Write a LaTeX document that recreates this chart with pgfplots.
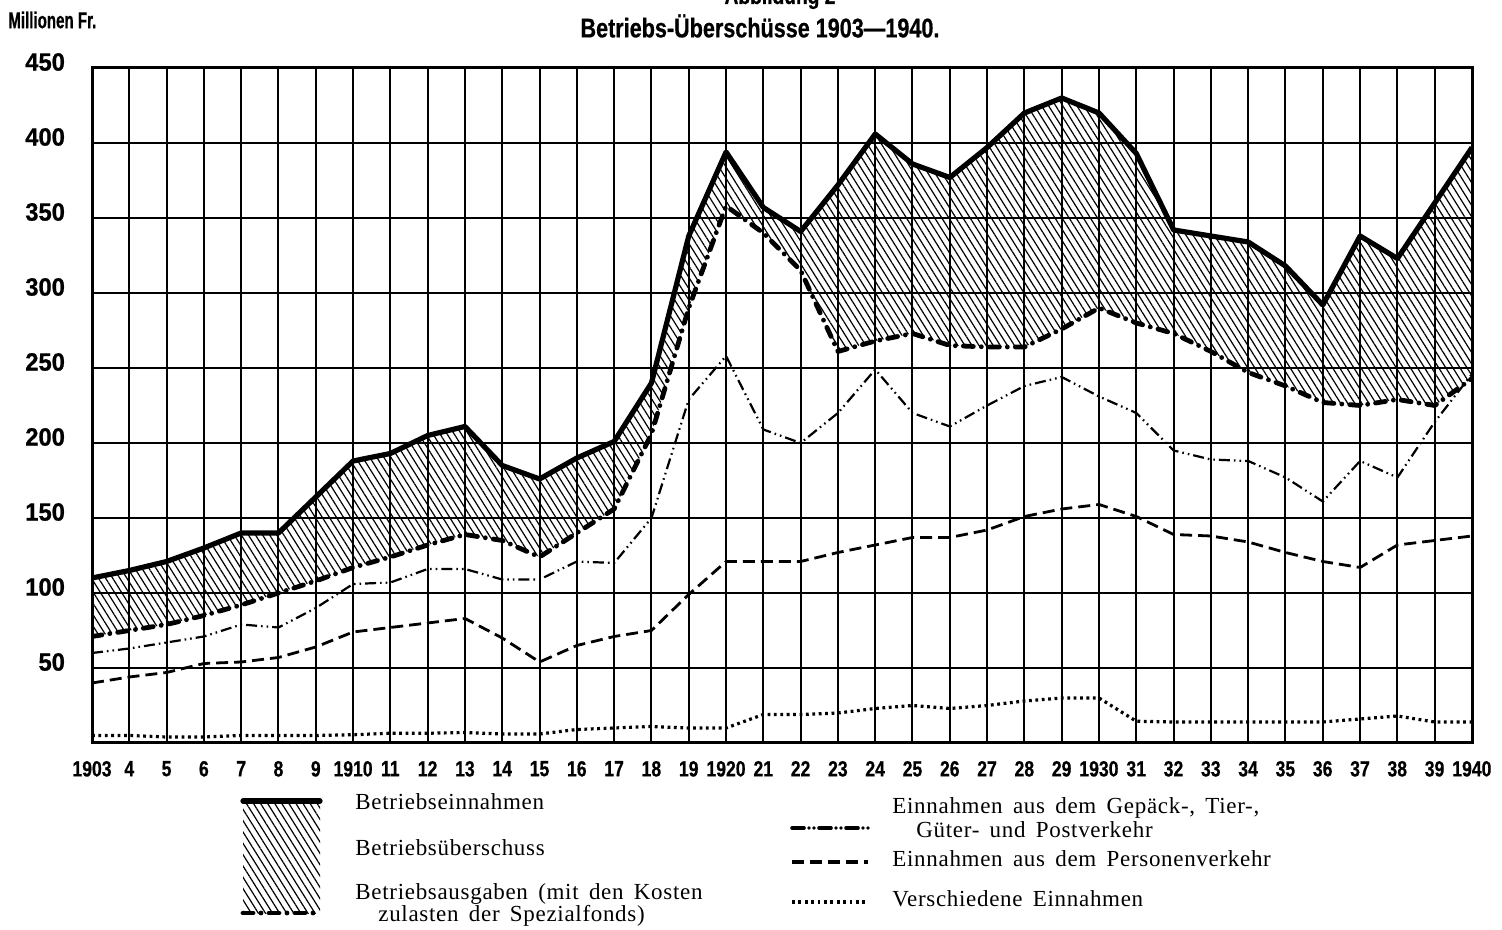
\documentclass[border=0pt]{standalone}
\usepackage{fontspec}
\setmainfont{Liberation Serif}
\newfontfamily\legfont{Liberation Serif}[LetterSpace=3,WordSpace=1.6]
\newfontfamily\cond{Liberation Sans}[FakeStretch=0.8,FakeBold=0.6]
\newfontfamily\ycond{Liberation Sans}[FakeStretch=0.95,FakeBold=0.8]
\usepackage{pgfplots}
\usepackage{pgfplotstable}
\pgfplotsset{compat=1.18}
\usepgfplotslibrary{fillbetween}
\usetikzlibrary{patterns.meta}

% Millionen Fr.
\pgfplotstableread{
year ein aus gut pers versch
1903 110  71  60  40  5
1904 115  75  63  44  5
1905 121  79  67  47  4
1906 130  85  71  53  4
1907 140  92  79  54  5
1908 140 100  77  57  5
1909 164 108  90  64  5
1910 188 117 106  74  5.5
1911 193 124 107  77  6.5
1912 205 132 116  80  6.5
1913 211 139 116  83  7
1914 185 135 109  70  6
1915 176 124 109  54  6
1916 190 140 121  65  9
1917 201 156 120  71  10
1918 240 206 150  75  11
1919 338 290 229  99  10
1920 394 358 258 121  10
1921 357 340 209 121  19
1922 341 315 200 121  19
1923 372 261 220 127  20
1924 406 268 249 132  23
1925 386 273 220 137  25
1926 377 265 211 137  23
1927 397 264 225 142  25
1928 420 264 238 151  28
1929 430 276 244 156  30
1930 420 290 231 159  30
1931 393 280 220 151  14.5
1932 342 273 195 139  14
1933 338 261 189 138  14
1934 334 247 188 134  14
1935 318 238 177 127  14
1936 292 227 161 121  14
1937 338 225 188 117  16
1938 323 229 177 132  18
1939 360 225 214 135  14
1940 397 243 246 138  14
}\data

\tikzset{
  hatch/.style={pattern={Lines[angle=-58,distance=3pt,line width=0.6pt]}},
  einst/.style={black, line width=2.6pt, line join=round},
  ausst/.style={black, line width=2.4pt, line cap=round, line join=round,
    dash pattern=on 5pt off 4pt on 0pt off 4pt},
  gutst/.style={black, line width=1.1pt,
    dash pattern=on 5.5pt off 2pt on 0.8pt off 2pt on 0.8pt off 2pt},
  persst/.style={black, line width=1.4pt, dash pattern=on 6pt off 3pt},
  verst/.style={black, line width=1.6pt, dash pattern=on 1.4pt off 1.8pt},
}

\begin{document}
\begin{tikzpicture}
\begin{axis}[
    scale only axis,
    width=690pt, height=337.5pt,
    xmin=1903, xmax=1940,
    ymin=0, ymax=450,
    xtick={1903,...,1940},
    xticklabels={1903,4,5,6,7,8,9,1910,11,12,13,14,15,16,17,18,19,1920,21,22,23,24,25,26,27,28,29,1930,31,32,33,34,35,36,37,38,39,1940},
    ytick={50,100,...,450},
    yticklabels={50,100,150,200,250,300,350,400,450},
    grid=major,
    major grid style={black, line width=1pt},
    axis line style={black, line width=1.5pt},
    major tick length=0pt,
    xticklabel style={font=\cond\bfseries\fontsize{11}{12}\selectfont, anchor=north, yshift=-5.5pt},
    yticklabel style={font=\ycond\bfseries\fontsize{12.5}{13}\selectfont, anchor=east, xshift=-10pt, yshift=3pt},
]
\addplot[name path=ein, draw=none, forget plot] table[x=year, y=ein] {\data};
\addplot[name path=aus, draw=none, forget plot] table[x=year, y=aus] {\data};
\addplot[hatch, draw=none] fill between[of=ein and aus];

\addplot[verst] table[x=year, y=versch] {\data};
\addplot[persst] table[x=year, y=pers] {\data};
\addplot[gutst] table[x=year, y=gut] {\data};
\addplot[ausst] table[x=year, y=aus] {\data};
\addplot[einst] table[x=year, y=ein] {\data};
\end{axis}

% titles
\begin{scope}
\clip (200pt,340pt) rectangle (500pt,371.5pt);
\node[font=\cond\bfseries\fontsize{12}{13}\selectfont, anchor=base] at (344pt,369.5pt) {Abbildung 2};
\end{scope}
\node[font=\cond\bfseries\fontsize{13.5}{15}\selectfont] at (334pt,358.5pt) {Betriebs-Überschüsse 1903—1940.};
\node[font=\cond\bfseries\fontsize{11.5}{13}\selectfont, anchor=west, xscale=0.82, inner sep=0pt] at (-42pt,361.5pt) {Millionen Fr.};

% legend, left block
\fill[hatch] (75.5pt,-85pt) rectangle (114pt,-29pt);
\draw[einst, line cap=round] (75.5pt,-29pt) -- (114pt,-29pt);
\draw[ausst] (75.5pt,-85pt) -- (114pt,-85pt);
\begin{scope}[every node/.style={anchor=west, inner sep=0pt, font=\legfont\fontsize{11.5}{13}\selectfont}]
\node at (131.5pt,-29.5pt) {Betriebseinnahmen};
\node at (131.5pt,-52.5pt) {Betriebsüberschuss};
\node at (131.5pt,-75.5pt) {Betriebsausgaben (mit den Kosten};
\node at (143pt,-86.5pt) {zulasten der Spezialfonds)};
% right block
\node at (400pt,-32.5pt) {Einnahmen aus dem Gepäck-, Tier-,};
\node at (412pt,-43.5pt) {Güter- und Postverkehr};
\node at (400pt,-58pt) {Einnahmen aus dem Personenverkehr};
\node at (400pt,-78pt) {Verschiedene Einnahmen};
\end{scope}
\draw[ausst, line width=1.8pt, dash pattern=on 6pt off 2.5pt on 0pt off 2.5pt on 0pt off 2.5pt] (350pt,-42.5pt) -- (388pt,-42.5pt);
\draw[persst, line width=1.8pt] (350pt,-59.5pt) -- (388pt,-59.5pt);
\draw[verst, line width=1.8pt] (350pt,-79.5pt) -- (388pt,-79.5pt);

\pgfresetboundingbox
\path[use as bounding box] (-46pt,-93.5pt) rectangle (705pt,371.5pt);
\end{tikzpicture}
\end{document}
